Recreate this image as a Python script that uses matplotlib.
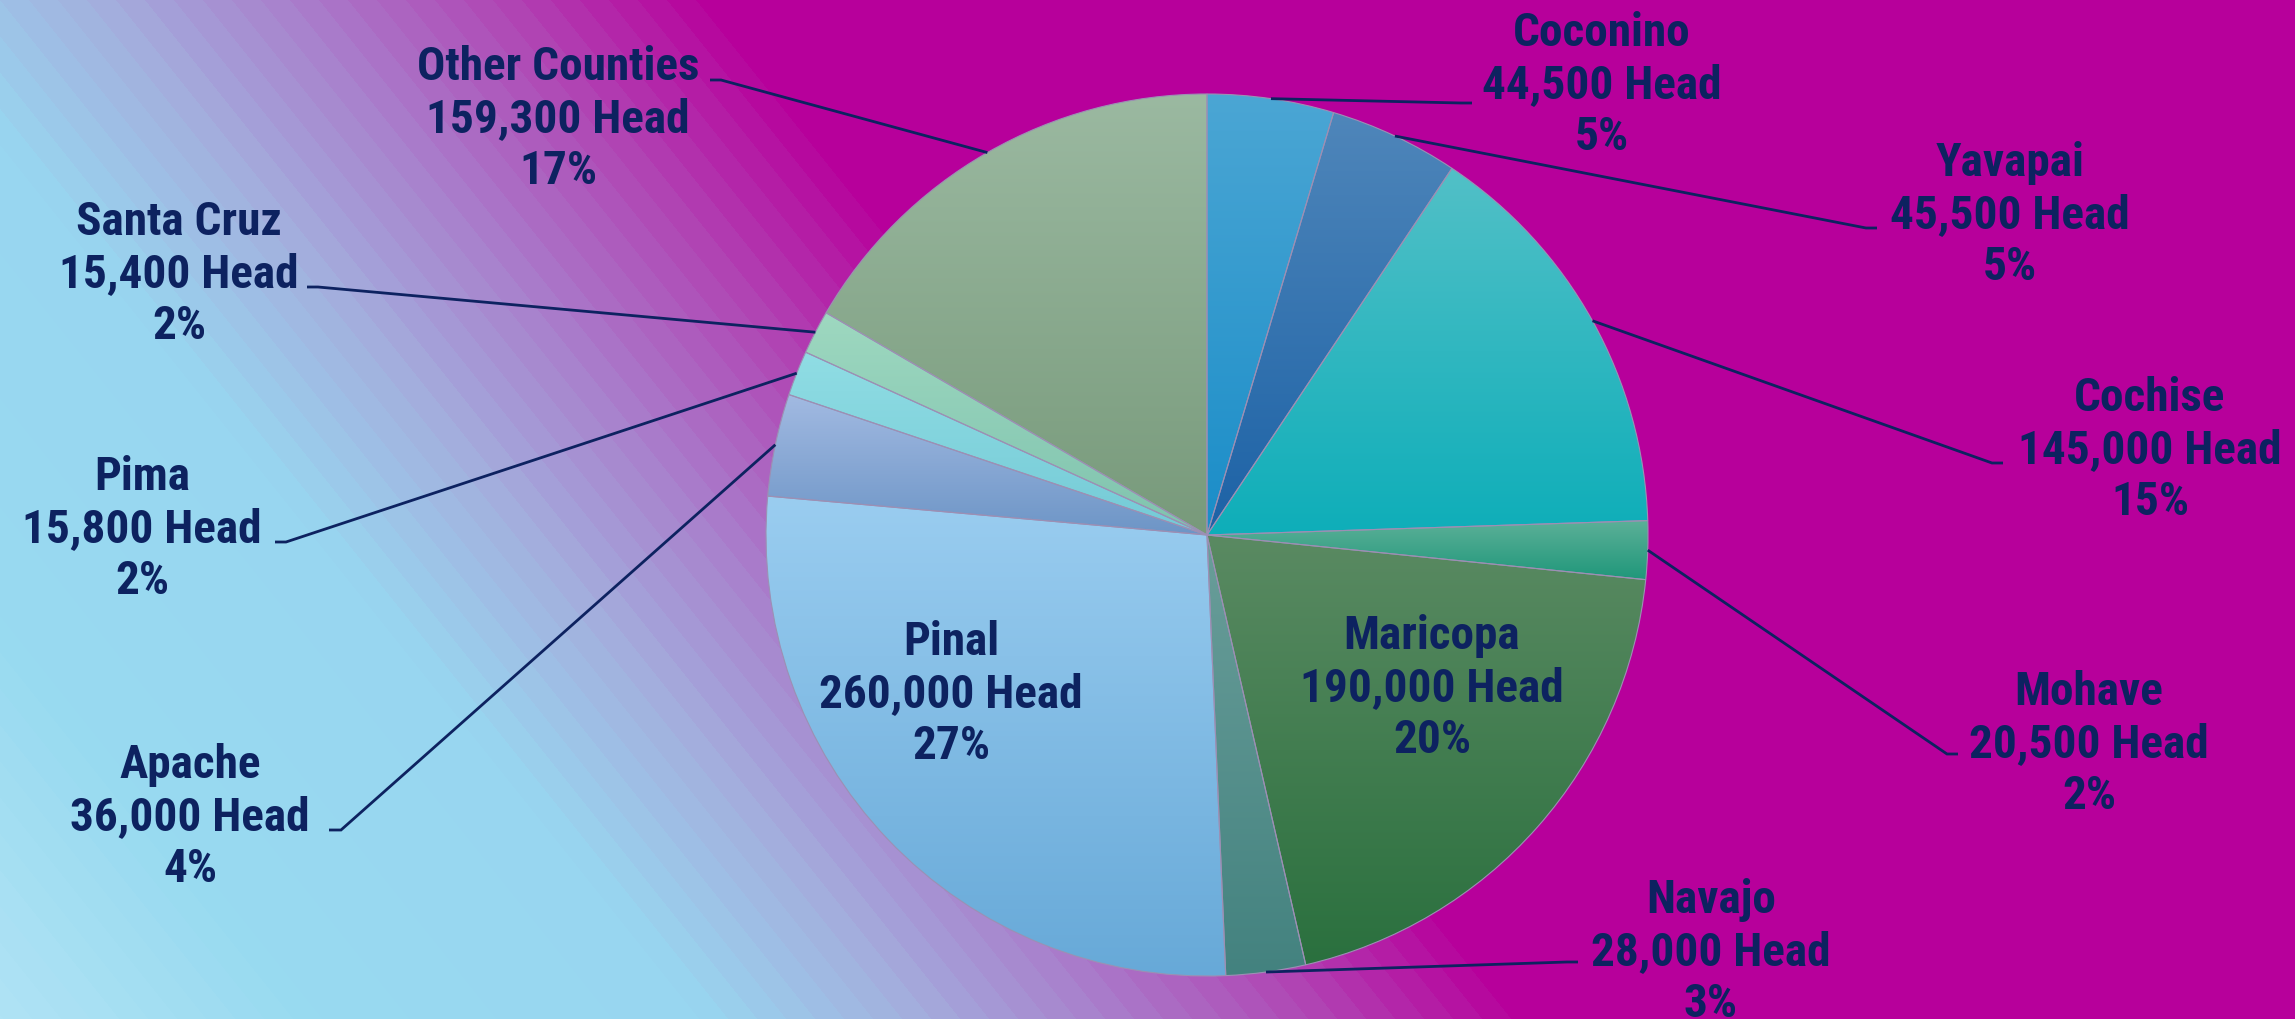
import numpy as np
import matplotlib
matplotlib.use("Agg")
import matplotlib.pyplot as plt
from matplotlib import font_manager
from matplotlib.colors import to_rgb

# ---------------- data ----------------
counties = ["Coconino", "Yavapai", "Cochise", "Mohave", "Maricopa", "Navajo",
            "Pinal", "Apache", "Pima", "Santa Cruz", "Other Counties"]
head = [44500, 45500, 145000, 20500, 190000, 28000, 260000, 36000, 15800, 15400, 159300]

# ---------------- styles ----------------
top_colors = ["#4BA6D4", "#4F86BA", "#52C0C7", "#5CB098", "#5A8A62", "#6A9E9A",
              "#9ACDF0", "#A2BAE2", "#90DDE4", "#9ED8C0", "#9BB9A1"]
bot_colors = ["#1A8DC8", "#1C62A6", "#0EAEB9", "#1F977A", "#2A703E", "#43827F",
              "#67A9D8", "#6D95C6", "#74CAD6", "#7FC3AE", "#789A7B"]
navy = "#0D2260"

W, H = 2295, 1019
PCX, PCY, R = 1207, 535, 441   # pie centre (image px, y down) and radius

# label layout: centre x, baseline y of middle line (image px), inside?, leader end, elbow
label_layout = {
    "Coconino":       (1602, 98,  False, (1472, 103), (1461, 103)),
    "Yavapai":        (2010, 228, False, (1877, 228), (1866, 228)),
    "Cochise":        (2150, 463, False, (2003, 463), (1992, 463)),
    "Mohave":         (2089, 757, False, (1958, 754), (1947, 754)),
    "Maricopa":       (1432, 701, True, None, None),
    "Navajo":         (1711, 965, False, (1578, 962), (1567, 962)),
    "Pinal":          (951, 707,  True, None, None),
    "Apache":         (190, 830,  False, (329, 830), (341, 830)),
    "Pima":           (142, 542,  False, (275, 542), (286, 542)),
    "Santa Cruz":     (179, 287,  False, (307, 287), (318, 287)),
    "Other Counties": (558, 132,  False, (710, 80), (721, 80)),
}
LINE_DY = 52

# ---------------- font ----------------
avail = {f.name for f in font_manager.fontManager.ttflist}
fam = None
for cand in ["Liberation Sans Narrow", "Roboto Condensed", "Open Sans Condensed", "Roboto", "Lato", "DejaVu Sans"]:
    if cand in avail:
        fam = cand
        break

fig = plt.figure(figsize=(W / 100, H / 100), dpi=100)
ax = fig.add_axes([0, 0, 1, 1])
ax.set_axis_off()

renderer = fig.canvas.get_renderer()
probe = fig.text(0, 0, "Other Counties", fontsize=32, fontweight="bold", family=fam)
wpx = probe.get_window_extent(renderer).width
probe.remove()
fsize = min(34, 32 * 296 / wpx)

# ---------------- background ----------------
yy, xx = np.mgrid[0:H, 0:W] + 0.5
s = xx - 0.80 * yy
s = np.floor(s / 29.0) * 29.0 + 14.5
stops_s = [-815, -500, -110, 95, 300, 505, 710]
stops_c = ["#B0E3F5", "#98DAF0", "#98D6F0", "#A3B0DE", "#A97DCB", "#B045B4", "#B7009B"]
stops_rgb = np.array([to_rgb(c) for c in stops_c])
bg = np.zeros((H, W, 3))
for k in range(3):
    bg[..., k] = np.interp(s, stops_s, stops_rgb[:, k])
ax.imshow(bg, extent=[0, W, 0, H], origin="upper", aspect="auto",
          interpolation="nearest", zorder=0)

# ---------------- pie ----------------
wedges, _ = ax.pie(head, startangle=90, counterclock=False,
                   center=(PCX, H - PCY), radius=R,
                   wedgeprops=dict(linewidth=0.8, edgecolor="#9C90B4", facecolor="none"))
for w, ct, cb in zip(wedges, top_colors, bot_colors):
    w.set_facecolor("none")
    w.set_zorder(3)
    ext = w.get_path().get_extents()
    grad = np.linspace(to_rgb(ct), to_rgb(cb), 256)[:, None, :]
    im = ax.imshow(grad, extent=[ext.x0, ext.x1, ext.y0, ext.y1], origin="upper",
                   aspect="auto", interpolation="bilinear", zorder=2)
    im.set_clip_path(w)

# ---------------- labels & leaders ----------------
total = sum(head)
for name, val, w in zip(counties, head, wedges):
    cxl, by, inside, end, elbow = label_layout[name]
    lines = [name, f"{val:,} Head", f"{round(100 * val / total)}%"]
    for i, txt in enumerate(lines):
        ax.text(cxl, H - (by + (i - 1) * LINE_DY), txt, ha="center", va="baseline",
                fontsize=fsize, fontweight="bold", family=fam, color=navy, zorder=5)
    if not inside:
        th = np.deg2rad((w.theta1 + w.theta2) / 2)
        sx = w.center[0] + w.r * np.cos(th)
        sy = w.center[1] + w.r * np.sin(th)
        ax.plot([sx, elbow[0], end[0]], [sy, H - elbow[1], H - end[1]],
                color=navy, lw=2.0, solid_capstyle="butt", solid_joinstyle="miter", zorder=4)

ax.set_xlim(0, W)
ax.set_ylim(0, H)
ax.set_aspect("auto")
fig.savefig("out.png", dpi=100)
